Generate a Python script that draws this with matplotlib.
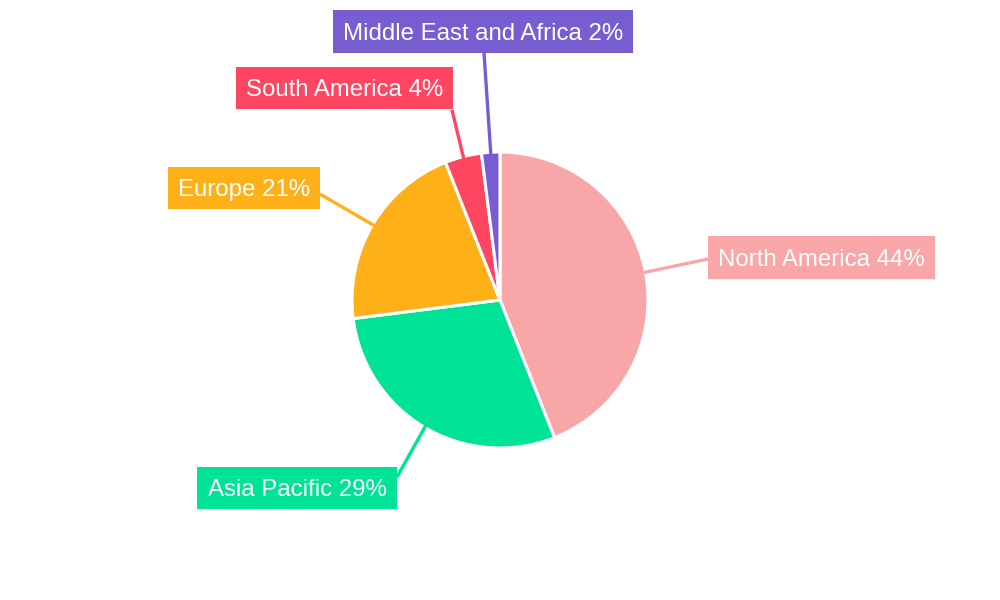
import matplotlib
matplotlib.use("Agg")
import matplotlib.pyplot as plt
import numpy as np

plt.rcParams["font.family"] = ["Liberation Sans", "DejaVu Sans"]

# data
regions = ["North America", "Asia Pacific", "Europe", "South America", "Middle East and Africa"]
shares = [44, 29, 21, 4, 2]
colors = ["#F9A6A8", "#00E396", "#FEB019", "#FF4560", "#775DD0"]

# layout (pixels from top-left of the 1000x600 canvas)
W, H = 1000, 600
CX, CY, R = 500, 300, 148
label_centers = [(821.5, 257.5), (297, 488), (244, 188), (344.5, 88), (483, 31.5)]
line_ends = [(708, 259), (397, 477), (320, 194), (452, 110), (484, 53)]

fig = plt.figure(figsize=(10, 6), dpi=100, facecolor="white")
ax = fig.add_axes([0, 0, 1, 1])

wedges, _ = ax.pie(shares, colors=colors, startangle=90, counterclock=False,
                   center=(CX, H - CY), radius=R,
                   wedgeprops=dict(edgecolor="white", linewidth=2.2))

# pie() resets the limits, so set them afterwards
ax.set_xlim(0, W)
ax.set_ylim(0, H)
ax.set_aspect("equal")
ax.axis("off")

for w, name, val, col, (lx, ly), (ex, ey) in zip(
        wedges, regions, shares, colors, label_centers, line_ends):
    mid = np.deg2rad((w.theta1 + w.theta2) / 2)
    sx = CX + (R - 2) * np.cos(mid)
    sy = (H - CY) + (R - 2) * np.sin(mid)
    ax.plot([sx, ex], [sy, H - ey], color=col, lw=2.4, solid_capstyle="butt", zorder=1)
    label = f"{name} {val}%"
    # box only (invisible text), then the visible text nudged down a bit
    ax.text(lx, H - ly, label, ha="center", va="center",
            fontsize=17.3, color=(1, 1, 1, 0), zorder=5,
            bbox=dict(boxstyle="square,pad=0.42", facecolor=col, edgecolor="none"))
    ax.text(lx, H - ly - 2, label, ha="center", va="center",
            fontsize=17.3, color="white", zorder=6)

fig.savefig("out.png", dpi=100, facecolor="white")
